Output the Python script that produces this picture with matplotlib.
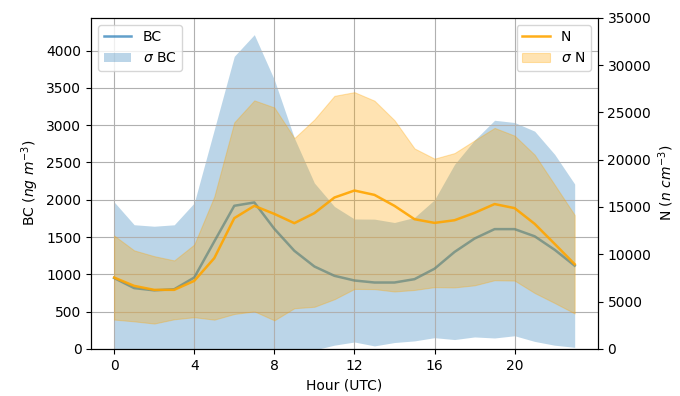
import numpy as np
import matplotlib.pyplot as plt

# hourly diurnal cycle, mean and standard deviation
hours = np.arange(24)

bc_mean = np.array([950, 815, 785, 800, 957, 1440, 1919, 1964, 1610, 1315, 1105, 980,
                    917, 890, 890, 935, 1075, 1300, 1480, 1606, 1606, 1510, 1329, 1116])
bc_std = np.array([1020, 850, 860, 864, 1000, 1500, 2005, 2250, 2000, 1513, 1120, 930,
                   825, 850, 805, 828, 925, 1175, 1320, 1460, 1430, 1410, 1280, 1095])

n_mean = np.array([7540, 6660, 6240, 6240, 7190, 9590, 13820, 15120, 14270, 13290, 14350, 16000,
                   16740, 16280, 15120, 13710, 13320, 13600, 14380, 15310, 14880, 13220, 11100, 8950])
n_std = np.array([4440, 3750, 3560, 3110, 3840, 6500, 10130, 11150, 11250, 8990, 9900, 10750,
                  10400, 9960, 9050, 7480, 6790, 7100, 7660, 8050, 7660, 7310, 6250, 5200])

fig = plt.figure(figsize=(6.8, 3.96), dpi=100)
ax1 = fig.add_axes([0.134, 0.119, 0.745, 0.836])
ax2 = ax1.twinx()

# BC on the left axis
l1, = ax1.plot(hours, bc_mean, color='tab:blue', alpha=0.7, lw=1.8, label='BC')
f1 = ax1.fill_between(hours, bc_mean - bc_std, bc_mean + bc_std,
                      color='tab:blue', alpha=0.3, lw=0, label=r'$\sigma$ BC')

# N on the right axis
l2, = ax2.plot(hours, n_mean, color='orange', alpha=0.9, lw=1.8, label='N')
f2 = ax2.fill_between(hours, n_mean - n_std, n_mean + n_std,
                      color='orange', alpha=0.3, lw=0.8, label=r'$\sigma$ N')

ax1.set_xticks(range(0, 24, 4))
ax1.set_xlim(-1.15, 24.15)
ax1.set_ylim(0, 4440)
ax1.set_yticks(range(0, 4001, 500))
ax2.set_ylim(0, 35000)
ax1.grid(True, color='#b0b0b0', lw=0.8)

ax1.set_xlabel('Hour (UTC)')
ax1.set_ylabel(r'BC ($ng\ m^{-3}$)')
ax2.set_ylabel(r'N ($n\ cm^{-3}$)')

ax1.legend(handles=[l1, f1], loc='upper left')
ax2.legend(handles=[l2, f2], loc='upper right')

fig.savefig('out.png', dpi=100)
